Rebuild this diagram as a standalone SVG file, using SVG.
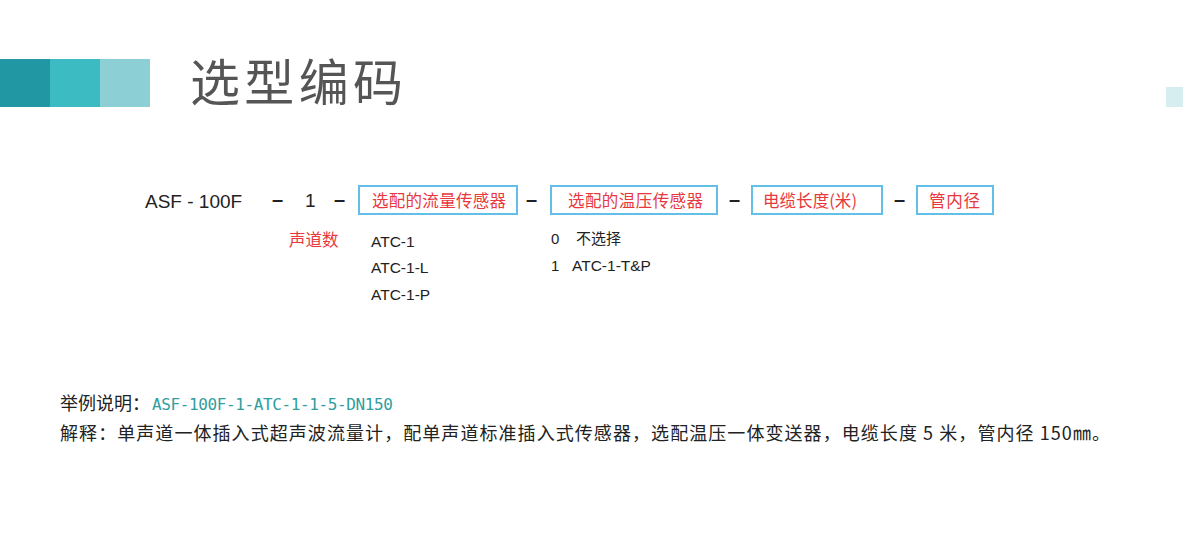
<svg xmlns="http://www.w3.org/2000/svg" width="1183" height="551" viewBox="0 0 1183 551">
<style>
.box{fill:#fff;stroke:#62bfe6;stroke-width:2}
.red{fill:#e8383d;font-family:"Noto Sans CJK SC","Liberation Sans",sans-serif;font-size:16.5px}
.lat{fill:#222;font-family:"Liberation Sans","Noto Sans CJK SC",sans-serif}
.dash{fill:#222;font-family:"Liberation Sans",sans-serif;font-size:20px;font-weight:bold}
.cjk{fill:#222;font-family:"Noto Sans CJK SC",sans-serif}
</style>
<rect width="1183" height="551" fill="#fff"/>
<g id="header">
<rect x="0" y="59" width="50" height="48" fill="#2097a2"/>
<rect x="50" y="59" width="50" height="48" fill="#3cbcc2"/>
<rect x="100" y="59" width="50" height="48" fill="#8cd0d6"/>
<rect x="1166" y="87" width="17" height="20" fill="#d6eef0"/>
<text x="190" y="101" font-family="Noto Sans CJK SC,sans-serif" font-size="50" fill="#555" textLength="213">选型编码</text>
</g>
<g id="model">
<text class="lat" x="145" y="208" font-size="19">ASF - 100F</text>
</g>
<g id="channels">
<text class="lat" x="305" y="207" font-size="19">1</text>
<text class="red" x="289" y="246">声道数</text>
</g>
<g id="flow-sensor">
<rect class="box" x="359" y="186" width="158" height="28"/>
<text class="red" x="372" y="207" textLength="134">选配的流量传感器</text>
<text class="lat" x="371" y="247" font-size="15.5">ATC-1</text>
<text class="lat" x="371" y="273" font-size="15.5">ATC-1-L</text>
<text class="lat" x="371" y="300" font-size="15.5">ATC-1-P</text>
</g>
<g id="temp-sensor">
<rect class="box" x="551" y="186" width="166" height="28"/>
<text class="red" x="568" y="207" textLength="135">选配的温压传感器</text>
<text class="lat" x="551" y="244" font-size="15">0</text>
<text class="cjk" x="576" y="244" font-size="15">不选择</text>
<text class="lat" x="551" y="271" font-size="15">1</text>
<text class="lat" x="572" y="271" font-size="15.5">ATC-1-T&amp;P</text>
</g>
<g id="cable">
<rect class="box" x="752" y="186" width="130" height="28"/>
<text class="red" x="763" y="207" textLength="94">电缆长度(米)</text>
</g>
<g id="pipe">
<rect class="box" x="917" y="186" width="76" height="28"/>
<text class="red" x="929" y="207" textLength="51">管内径</text>
</g>
<g id="connectors">
<text class="dash" x="272" y="206">–</text>
<text class="dash" x="334" y="206">–</text>
<text class="dash" x="526" y="206">–</text>
<text class="dash" x="729" y="206">–</text>
<text class="dash" x="894" y="206">–</text>
</g>
<g id="example">
<text class="cjk" x="60" y="410" font-size="18">举例说明：</text>
<text x="152" y="410" font-family="DejaVu Sans Mono,monospace" font-size="16" fill="#2f9ea0" textLength="241">ASF-100F-1-ATC-1-1-5-DN150</text>
<text class="cjk" x="60" y="440" font-size="18" textLength="1050">解释：单声道一体插入式超声波流量计，配单声道标准插入式传感器，选配温压一体变送器，电缆长度 5 米，管内径 150㎜。</text>
</g>
</svg>
